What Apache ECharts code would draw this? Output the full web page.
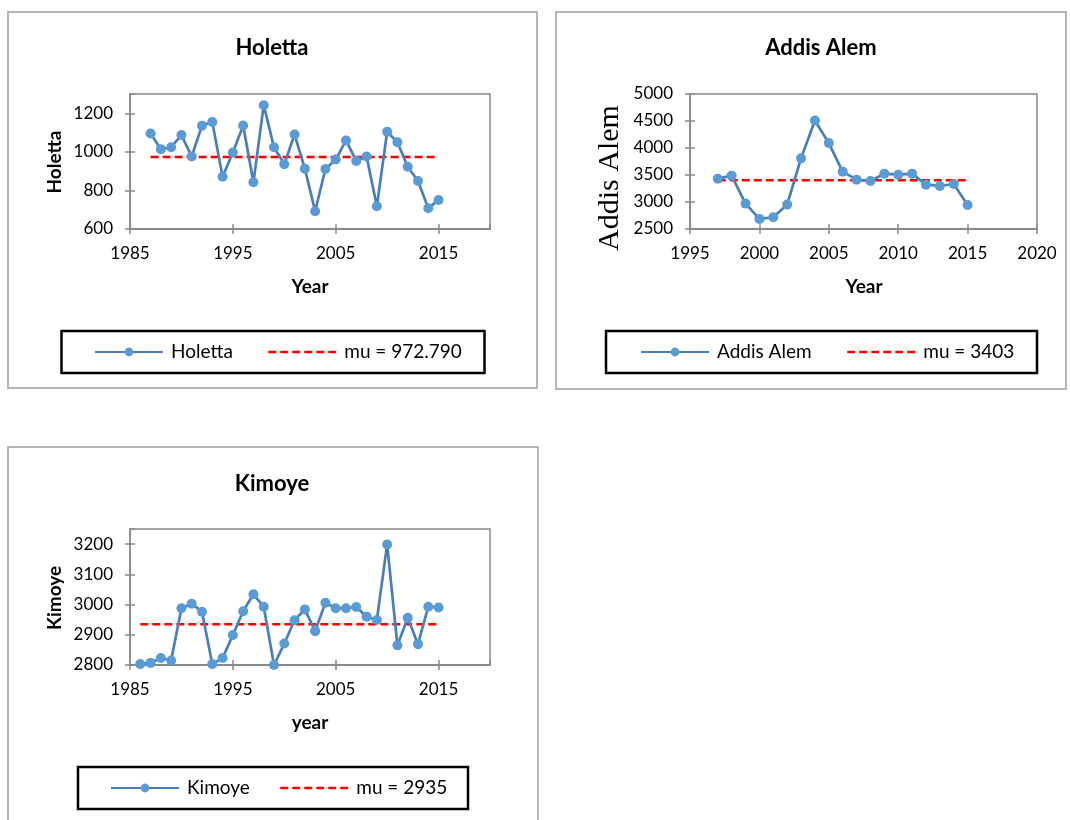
<!DOCTYPE html>
<html><head><meta charset="utf-8">
<script src="https://cdn.jsdelivr.net/npm/echarts@6/dist/echarts.min.js"></script>
<style>html,body{margin:0;padding:0;background:#fff}#c{width:1070px;height:820px}</style>
</head><body><div id="c"></div>
<script>
// ---------- data ----------
const holettaYears = [1987,1988,1989,1990,1991,1992,1993,1994,1995,1996,1997,1998,1999,2000,2001,2002,2003,2004,2005,2006,2007,2008,2009,2010,2011,2012,2013,2014,2015];
const holettaValues = [1095,1014,1024,1087,976,1136,1155,871,997,1137,842,1242,1024,936,1090,913,692,911,960,1059,953,976,718,1104,1050,923,849,708,750];
const holettaMu = 972.79;

const addisYears = [1997,1998,1999,2000,2001,2002,2003,2004,2005,2006,2007,2008,2009,2010,2011,2012,2013,2014,2015];
const addisValues = [3432,3488,2970,2687,2718,2952,3808,4510,4091,3562,3414,3389,3525,3506,3525,3321,3297,3334,2946];
const addisMu = 3403;

const kimoyeYears = [1986,1987,1988,1989,1990,1991,1992,1993,1994,1995,1996,1997,1998,1999,2000,2001,2002,2003,2004,2005,2006,2007,2008,2009,2010,2011,2012,2013,2014,2015];
const kimoyeValues = [2803,2807,2823,2815,2988,3003,2976,2803,2823,2899,2978,3034,2993,2800,2871,2948,2984,2912,3006,2988,2988,2992,2960,2949,3199,2865,2956,2869,2993,2990];
const kimoyeMu = 2935;

const chartTitles = ['Holetta','Addis Alem','Kimoye'];
const xTitles = ['Year','Year','year'];
const muLabels = ['mu = 972.790','mu = 3403','mu = 2935'];

// ---------- styling ----------
const FONT = 'Lato, "Liberation Sans", sans-serif';
const AXIS_GRAY = '#898989';
const LINE_BLUE = '#4a7ebb';
const MARK_BLUE = '#5b9bd5';

const grids = [
  {left:130, top:94, width:360, height:135, show:true, borderColor:AXIS_GRAY, borderWidth:1.5},
  {left:690, top:94, width:347, height:135, show:true, borderColor:AXIS_GRAY, borderWidth:1.5},
  {left:130, top:529, width:360, height:136, show:true, borderColor:AXIS_GRAY, borderWidth:1.5}
];
const xRanges = [[1985,2020,10],[1995,2020,5],[1985,2020,10]];
const yRanges = [[600,1300,200],[2500,5000,500],[2800,3250,100]];
const showMaxY = [false,true,false];
const showMaxX = [false,true,false];
const plain = v => String(v);

const xAxes = [], yAxes = [];
for (let i=0;i<3;i++){
  const [xmin,xmax,xi]=xRanges[i], [ymin,ymax,yi]=yRanges[i];
  xAxes.push({type:'value', gridIndex:i, position:'bottom', min:xmin, max:xmax, interval:xi,
    axisLine:{show:true, onZero:false, lineStyle:{color:AXIS_GRAY, width:2}},
    axisTick:{show:true, inside:false, length:5, lineStyle:{color:AXIS_GRAY, width:1.5}},
    axisLabel:{show:true, margin:16, showMaxLabel:showMaxX[i], color:'#000', fontFamily:FONT, fontSize:17, formatter:plain},
    splitLine:{show:false}});
  yAxes.push({type:'value', gridIndex:i, position:'left', min:ymin, max:ymax, interval:yi,
    axisLine:{show:true, onZero:false, lineStyle:{color:AXIS_GRAY, width:1.5}},
    axisTick:{show:true, inside:false, length:5, lineStyle:{color:AXIS_GRAY, width:1.5}},
    axisLabel:{show:true, margin:17, showMaxLabel:showMaxY[i], color:'#000', fontFamily:FONT, fontSize:17, formatter:plain},
    splitLine:{show:false}});
}
// inner halves of the crossing tick marks
for (let i=0;i<3;i++){
  const [xmin,xmax,xi]=xRanges[i], [ymin,ymax,yi]=yRanges[i];
  xAxes.push({type:'value', gridIndex:i, position:'bottom', min:xmin, max:xmax, interval:xi,
    axisLine:{show:false}, axisTick:{show:true, inside:true, length:5, lineStyle:{color:AXIS_GRAY, width:1.5}},
    axisLabel:{show:false}, splitLine:{show:false}});
  yAxes.push({type:'value', gridIndex:i, position:'left', min:ymin, max:ymax, interval:yi,
    axisLine:{show:false}, axisTick:{show:true, inside:true, length:5, lineStyle:{color:AXIS_GRAY, width:1.5}},
    axisLabel:{show:false}, splitLine:{show:false}});
}

const sets = [
  [holettaYears, holettaValues, holettaMu],
  [addisYears, addisValues, addisMu],
  [kimoyeYears, kimoyeValues, kimoyeMu]
];
const series = [];
sets.forEach(([yrs, vals, mu], i) => {
  series.push({name:chartTitles[i], type:'line', xAxisIndex:i, yAxisIndex:i,
    data: yrs.map((y,k)=>[y, vals[k]]), clip:false,
    symbol:'circle', symbolSize:10, showSymbol:true,
    lineStyle:{color:LINE_BLUE, width:2.7}, itemStyle:{color:MARK_BLUE}, z:3, animation:false});
  series.push({name:muLabels[i], type:'line', xAxisIndex:i, yAxisIndex:i,
    data: [[yrs[0], mu], [yrs[yrs.length-1], mu]],
    symbol:'none', lineStyle:{color:'#ff0000', width:2.5, type:[8,4]}, itemStyle:{color:'#ff0000'}, z:2, animation:false});
});

// legends: one per item, positioned inside drawn boxes
const legendPos = [
  [[94,342],[267,342]],
  [[640,342],[846,342]],
  [[110,778],[279,778]]
];
const legends = [];
for (let i=0;i<3;i++){
  legends.push({data:[chartTitles[i]], left:legendPos[i][0][0], top:legendPos[i][0][1], padding:0,
    itemWidth:68, itemHeight:11, itemGap:0, selectedMode:false,
    textStyle:{fontFamily:FONT, fontSize:19, color:'#000', lineHeight:20, padding:[0,0,0,3]}});
  legends.push({data:[muLabels[i]], left:legendPos[i][1][0], top:legendPos[i][1][1], padding:0,
    itemWidth:68, itemHeight:11, selectedMode:false,
    lineStyle:{type:[8,4], width:2.5}, itemStyle:{opacity:0},
    textStyle:{fontFamily:FONT, fontSize:19, color:'#000', lineHeight:20, padding:[0,0,0,3]}});
}

function txt(text, x, y, font, rot){
  return {type:'text', x:x, y:y, rotation:rot||0, silent:true,
    style:{text:text, align:'center', verticalAlign:'middle', font:font, fill:'#000'}};
}
const BOX_GRAY = '#9d9d9d';
const graphic = [
  {type:'rect', shape:{x:8,y:12,width:529,height:376}, style:{fill:'none', stroke:BOX_GRAY, lineWidth:1.5}, silent:true},
  {type:'rect', shape:{x:556,y:12,width:510,height:377}, style:{fill:'none', stroke:BOX_GRAY, lineWidth:1.5}, silent:true},
  {type:'rect', shape:{x:8,y:447,width:530,height:390}, style:{fill:'none', stroke:BOX_GRAY, lineWidth:1.5}, silent:true},
  {type:'rect', shape:{x:61.5,y:331,width:423,height:42}, style:{fill:'none', stroke:'#000', lineWidth:2.5}, silent:true},
  {type:'rect', shape:{x:606,y:331,width:431,height:42}, style:{fill:'none', stroke:'#000', lineWidth:2.5}, silent:true},
  {type:'rect', shape:{x:78,y:767,width:390,height:42}, style:{fill:'none', stroke:'#000', lineWidth:2.5}, silent:true},
  txt(chartTitles[0], 272, 48, 'bold 22px '+FONT),
  txt(chartTitles[1], 821, 48, 'bold 22px '+FONT),
  txt(chartTitles[2], 272, 484, 'bold 22px '+FONT),
  txt(xTitles[0], 310, 287, 'bold 19px '+FONT),
  txt(xTitles[1], 864, 287, 'bold 19px '+FONT),
  txt(xTitles[2], 310, 723, 'bold 19px '+FONT),
  txt(chartTitles[0], 55, 162, 'bold 19px '+FONT, Math.PI/2),
  txt(chartTitles[1], 610, 178, '30px "Liberation Serif", "Times New Roman", serif', Math.PI/2),
  txt(chartTitles[2], 55, 598, 'bold 19px '+FONT, Math.PI/2)
];

const chart = echarts.init(document.getElementById('c'), null, {renderer:'canvas'});
chart.setOption({
  animation:false,
  backgroundColor:'#fff',
  grid:grids, xAxis:xAxes, yAxis:yAxes, series:series, legend:legends, graphic:graphic
});
</script></body></html>
